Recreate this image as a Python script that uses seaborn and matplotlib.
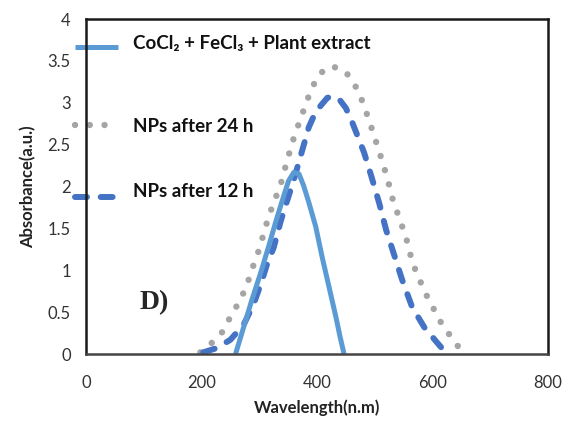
import matplotlib
matplotlib.use("Agg")
import matplotlib.pyplot as plt
from matplotlib.lines import Line2D
import seaborn as sns

# UV-Vis absorbance spectra
wl_precursor = [259, 273, 287, 303, 317, 330, 343, 351, 360, 369, 377, 386, 398, 409, 421, 433, 440, 447]
abs_precursor = [0.00, 0.32, 0.64, 0.98, 1.30, 1.61, 1.90, 2.07, 2.17, 2.15, 2.01, 1.81, 1.52, 1.16, 0.80, 0.44, 0.21, 0.00]

wl_24h = [198, 219, 237, 252, 266, 278, 289, 301, 310, 322, 337, 348, 357, 369, 379, 391, 407, 426,
          450, 466, 478, 489, 499, 511, 522, 532, 546, 557, 565, 577, 590, 603, 617, 633, 649]
abs_24h = [0.02, 0.14, 0.27, 0.47, 0.63, 0.81, 1.04, 1.27, 1.50, 1.75, 2.02, 2.30, 2.52, 2.76, 2.95, 3.18, 3.36, 3.44,
           3.37, 3.21, 3.03, 2.82, 2.61, 2.35, 2.10, 1.83, 1.56, 1.33, 1.10, 0.90, 0.70, 0.53, 0.35, 0.20, 0.05]

wl_12h = [203, 226, 250, 273, 290, 304, 313, 325, 337, 346, 360, 374, 386, 397, 407, 418, 428, 440,
          450, 461, 473, 482, 494, 508, 520, 534, 548, 565, 586, 609, 624]
abs_12h = [0.02, 0.07, 0.17, 0.35, 0.59, 0.86, 1.06, 1.27, 1.58, 1.78, 2.08, 2.42, 2.71, 2.88, 2.97, 3.06, 3.08, 3.03,
           2.94, 2.77, 2.56, 2.40, 2.13, 1.80, 1.48, 1.18, 0.88, 0.56, 0.32, 0.13, 0.01]

labels = ["CoCl\u2082 + FeCl\u2083 + Plant extract", "NPs after 24 h", "NPs after 12 h"]
x_ticks = [0, 200, 400, 600, 800]
y_ticks = [0, 0.5, 1, 1.5, 2, 2.5, 3, 3.5, 4]

sns.set_style("white")
plt.rcParams["font.family"] = ["Lato", "DejaVu Sans"]

c_solid = "#5B9BD5"
c_dot = "#A5A5A5"
c_dash = "#4472C4"

fig = plt.figure(figsize=(5.7, 4.25), dpi=100)
ax = fig.add_axes([0.151, 0.167, 0.810, 0.788])

dot_style = dict(linestyle=(0, (0.01, 2.3)), dash_capstyle="round", lw=4.6)
dash_style = dict(linestyle=(0, (2.0, 2.3)), dash_capstyle="round", lw=4.3)
solid_style = dict(linestyle="-", solid_capstyle="butt", solid_joinstyle="round", lw=3.6)

sns.lineplot(x=wl_24h, y=abs_24h, ax=ax, color=c_dot, sort=False, **dot_style)
sns.lineplot(x=wl_12h, y=abs_12h, ax=ax, color=c_dash, sort=False, **dash_style)
sns.lineplot(x=wl_precursor, y=abs_precursor, ax=ax, color=c_solid, sort=False, **solid_style)

ax.set_xlim(0, 800)
ax.set_ylim(0, 4)
ax.set_xticks(x_ticks)
ax.set_xticklabels([str(t) for t in x_ticks])
ax.set_yticks(y_ticks)
ax.set_yticklabels([f"{t:g}" for t in y_ticks])
ax.tick_params(axis="x", length=0, pad=15, labelsize=12, labelcolor="#333333")
ax.tick_params(axis="y", length=0, pad=11, labelsize=12, labelcolor="#333333")

for side, sp in ax.spines.items():
    sp.set_visible(True)
    sp.set_color("#1a1a1a" if side in ("left", "top", "right") else "#444444")
    sp.set_linewidth(1.8)

ax.set_xlabel("Wavelength(n.m)", fontsize=12, fontweight="bold", color="#222222", labelpad=6)
ax.set_ylabel("Absorbance(a.u.)", fontsize=12, fontweight="bold", color="#222222", labelpad=8)

ax.text(0.147, 0.155, "D)", transform=ax.transAxes, ha="center", va="center",
        fontsize=20, fontweight="bold", family=["Liberation Serif", "DejaVu Serif"])

# Legend drawn with its keys straddling the left spine
key_x0, key_x1 = -0.024, 0.069
text_x = 0.102
rows = [(0.916, 0.928, labels[0], c_solid, solid_style),
        (0.685, 0.678, labels[1], c_dot, dot_style),
        (0.468, 0.486, labels[2], c_dash, dash_style)]
for key_y, text_y, lab, col, sty in rows:
    ln = Line2D([key_x0, key_x1], [key_y, key_y], transform=ax.transAxes, color=col,
                clip_on=False, **sty)
    ax.add_line(ln)
    ax.text(text_x, text_y, lab, transform=ax.transAxes, ha="left", va="center",
            fontsize=13.5, fontweight="bold", color="#111111")

fig.savefig("out.png", dpi=100)
